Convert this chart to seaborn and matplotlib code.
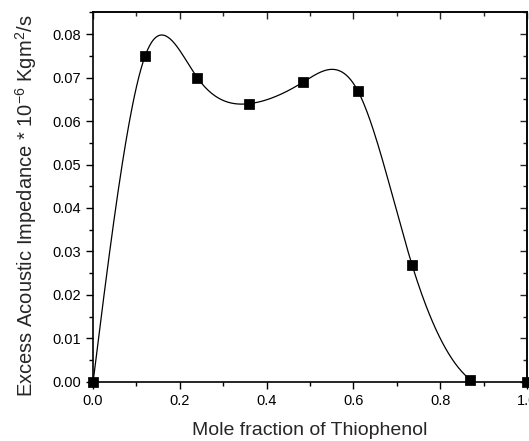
import numpy as np
import pandas as pd
import matplotlib
matplotlib.use('Agg')
import matplotlib.pyplot as plt
from matplotlib.ticker import MultipleLocator
from matplotlib import font_manager
import seaborn as sns

# data
mole_fraction = [0.0, 0.12, 0.24, 0.36, 0.485, 0.61, 0.735, 0.87, 1.0]
excess_impedance = [0.0, 0.075, 0.070, 0.064, 0.069, 0.067, 0.027, 0.0005, 0.0]


def natural_spline(x, y, n=400):
    # natural cubic spline through the points, used only to draw the smooth line
    x = np.asarray(x, float)
    y = np.asarray(y, float)
    k = len(x)
    h = np.diff(x)
    A = np.zeros((k, k))
    b = np.zeros(k)
    A[0, 0] = A[-1, -1] = 1
    for i in range(1, k - 1):
        A[i, i - 1] = h[i - 1]
        A[i, i] = 2 * (h[i - 1] + h[i])
        A[i, i + 1] = h[i]
        b[i] = 6 * ((y[i + 1] - y[i]) / h[i] - (y[i] - y[i - 1]) / h[i - 1])
    M = np.linalg.solve(A, b)
    xs = np.linspace(x[0], x[-1], n)
    idx = np.clip(np.searchsorted(x, xs) - 1, 0, k - 2)
    x0, x1 = x[idx], x[idx + 1]
    hh = x1 - x0
    ys = (M[idx] * (x1 - xs) ** 3 / (6 * hh) + M[idx + 1] * (xs - x0) ** 3 / (6 * hh)
          + (y[idx] / hh - M[idx] * hh / 6) * (x1 - xs)
          + (y[idx + 1] / hh - M[idx + 1] * hh / 6) * (xs - x0))
    return xs, ys


sns.set_style("ticks")
names = {f.name for f in font_manager.fontManager.ttflist}
fam = 'Liberation Sans Narrow' if 'Liberation Sans Narrow' in names else 'Liberation Sans'
plt.rcParams['font.family'] = [fam, 'DejaVu Sans']
plt.rcParams['mathtext.fontset'] = 'custom'
plt.rcParams['mathtext.rm'] = fam

df = pd.DataFrame({'x': mole_fraction, 'y': excess_impedance})
xs, ys = natural_spline(mole_fraction, excess_impedance)
curve = pd.DataFrame({'x': xs, 'y': ys})

fig = plt.figure(figsize=(5.29, 4.41), dpi=100)
ax = fig.add_axes([0.176, 0.134, 0.820, 0.839])

sns.lineplot(data=curve, x='x', y='y', ax=ax, color='black', linewidth=0.9, sort=False)
sns.scatterplot(data=df, x='x', y='y', ax=ax, marker='s', s=45, color='black',
                edgecolor='black', zorder=5, clip_on=False)

ax.set_xlim(0, 1.0)
ax.set_ylim(0, 0.0851)
ax.xaxis.set_major_locator(MultipleLocator(0.2))
ax.xaxis.set_minor_locator(MultipleLocator(0.1))
ax.yaxis.set_major_locator(MultipleLocator(0.01))
ax.yaxis.set_minor_locator(MultipleLocator(0.005))
ax.xaxis.set_major_formatter(plt.FuncFormatter(lambda v, p: f'{v:.1f}'))
ax.yaxis.set_major_formatter(plt.FuncFormatter(lambda v, p: f'{v:.2f}'))

ax.tick_params(which='both', direction='out', top=False, right=False, width=1, labelsize=10.5, colors='black')
ax.tick_params(which='major', length=5)
ax.tick_params(which='minor', length=3)
ax2 = ax.secondary_xaxis('top')
ax2.xaxis.set_major_locator(MultipleLocator(0.2))
ax2.xaxis.set_minor_locator(MultipleLocator(0.1))
ax2.tick_params(which='both', direction='in', labeltop=False, width=1)
ax2.tick_params(which='major', length=5)
ax2.tick_params(which='minor', length=3)
ax3 = ax.secondary_yaxis('right')
ax3.yaxis.set_major_locator(MultipleLocator(0.01))
ax3.yaxis.set_minor_locator(MultipleLocator(0.005))
ax3.tick_params(which='both', direction='in', labelright=False, width=1)
ax3.tick_params(which='major', length=5)
ax3.tick_params(which='minor', length=3)

for s in ax.spines.values():
    s.set_linewidth(1.2)
    s.set_color('black')
for a in (ax2, ax3):
    for s in a.spines.values():
        s.set_linewidth(1.2)

ax.set_xlabel('Mole fraction of Thiophenol', fontsize=14, labelpad=10)
ax.set_ylabel('Excess Acoustic Impedance * 10$^{-6}$ Kgm$^{2}$/s', fontsize=14.5)
ax.yaxis.set_label_coords(-0.125, 0.475)

fig.savefig('out.png', dpi=100)
